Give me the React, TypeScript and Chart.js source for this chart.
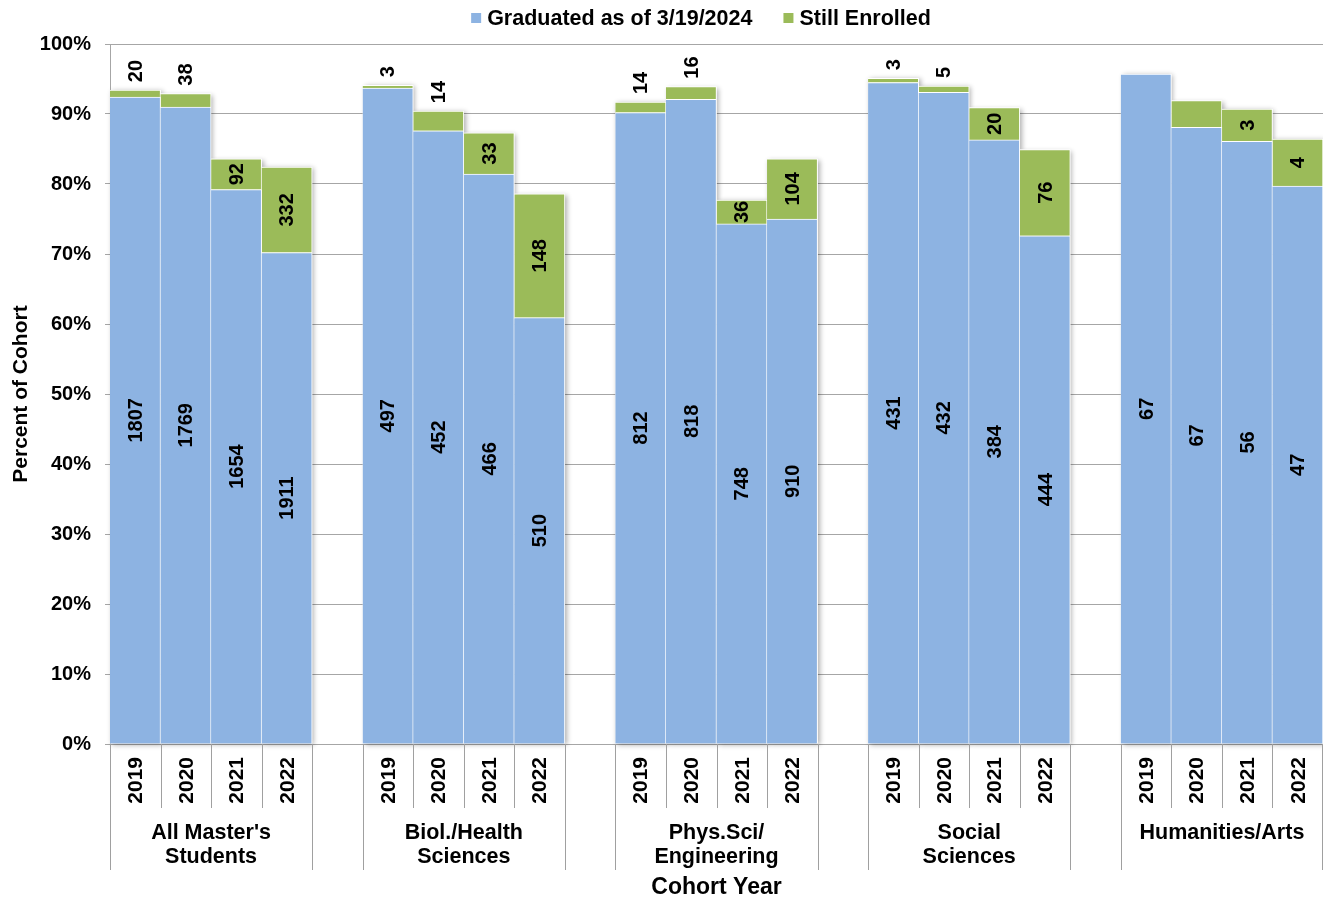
import React, { useEffect, useRef } from "react";
import { Chart, registerables } from "chart.js";

Chart.register(...registerables);

const FONT = "'Liberation Sans', Arial, Helvetica, sans-serif";
const BLUE = "#8DB3E2";
const GREEN = "#9BBB59";
const GRID = "#A6A6A6";
const SEP = "#A0A0A0";

const legendLabels = ["Graduated as of 3/19/2024", "Still Enrolled"];
const groupLabels: string[][] = [
  ["All Master's", "Students"],
  ["Biol./Health", "Sciences"],
  ["Phys.Sci/", "Engineering"],
  ["Social", "Sciences"],
  ["Humanities/Arts"],
];
const cohortYears = ["2019", "2020", "2021", "2022"];
const yTickValues = [0, 10, 20, 30, 40, 50, 60, 70, 80, 90, 100];

// Percent of cohort graduated
const allMastersGraduatedPct = [92.4, 91.0, 79.2, 70.2];
const biolHealthGraduatedPct = [93.7, 87.6, 81.4, 60.9];
const physSciGraduatedPct = [90.2, 92.1, 74.3, 75.0];
const socialSciGraduatedPct = [94.5, 93.1, 86.3, 72.6];
const humanitiesGraduatedPct = [95.7, 88.1, 86.1, 79.7];

// Percent of cohort still enrolled
const allMastersEnrolledPct = [1.0, 1.9, 4.4, 12.2];
const biolHealthEnrolledPct = [0.4, 2.8, 5.9, 17.7];
const physSciEnrolledPct = [1.5, 1.8, 3.4, 8.6];
const socialSciEnrolledPct = [0.6, 0.9, 4.6, 12.3];
const humanitiesEnrolledPct = [0, 3.8, 4.6, 6.7];

// Head counts shown as labels
const allMastersGraduatedN = [1807, 1769, 1654, 1911];
const biolHealthGraduatedN = [497, 452, 466, 510];
const physSciGraduatedN = [812, 818, 748, 910];
const socialSciGraduatedN = [431, 432, 384, 444];
const humanitiesGraduatedN = [67, 67, 56, 47];

const allMastersEnrolledN = [20, 38, 92, 332];
const biolHealthEnrolledN = [3, 14, 33, 148];
const physSciEnrolledN = [14, 16, 36, 104];
const socialSciEnrolledN = [3, 5, 20, 76];
const humanitiesEnrolledN: (number | null)[] = [null, null, 3, 4];

const gradGroups = [allMastersGraduatedPct, biolHealthGraduatedPct, physSciGraduatedPct, socialSciGraduatedPct, humanitiesGraduatedPct];
const enrGroups = [allMastersEnrolledPct, biolHealthEnrolledPct, physSciEnrolledPct, socialSciEnrolledPct, humanitiesEnrolledPct];
const gradNGroups = [allMastersGraduatedN, biolHealthGraduatedN, physSciGraduatedN, socialSciGraduatedN, humanitiesGraduatedN];
const enrNGroups: (number | null)[][] = [allMastersEnrolledN, biolHealthEnrolledN, physSciEnrolledN, socialSciEnrolledN, humanitiesEnrolledN];

function flatten<T>(groups: T[][], gap: T): T[] {
  const out: T[] = [];
  groups.forEach((g, i) => {
    g.forEach((v) => out.push(v));
    if (i < groups.length - 1) out.push(gap);
  });
  return out;
}

const xLabels = flatten(groupLabels.map(() => cohortYears), "");
const gradData = flatten<number | null>(gradGroups, null);
const enrData = flatten<number | null>(enrGroups, null);
const gradN = flatten<number | null>(gradNGroups, null);
const enrN = flatten<number | null>(enrNGroups, null);

const shadowPlugin = {
  id: "barShadow",
  beforeDatasetsDraw(chart: any) {
    const ctx: CanvasRenderingContext2D = chart.ctx;
    const m0 = chart.getDatasetMeta(0);
    const m1 = chart.getDatasetMeta(1);
    ctx.save();
    ctx.shadowColor = "rgba(0,0,0,0.32)";
    ctx.shadowBlur = 5;
    ctx.shadowOffsetX = 2;
    ctx.shadowOffsetY = 1;
    ctx.fillStyle = "#FFFFFF";
    m0.data.forEach((el: any, i: number) => {
      if (gradData[i] === null) return;
      const e1 = m1.data[i];
      const top = Math.min(el.y, e1 ? e1.y : el.y);
      const half = el.width / 2;
      ctx.fillRect(el.x - half, top, el.width, el.base - top);
    });
    ctx.restore();
  },
};

const overlayPlugin = {
  id: "overlay",
  afterDraw(chart: any) {
    const ctx: CanvasRenderingContext2D = chart.ctx;
    const area = chart.chartArea;
    const xs = chart.scales.x;
    const n = xLabels.length;
    const slot = (area.right - area.left) / n;
    const bottom = area.bottom;

    ctx.save();
    ctx.fillStyle = "#000";

    // ---- data labels ----
    ctx.font = `bold 20px ${FONT}`;
    const drawLabels = (dsIndex: number, counts: (number | null)[], allowAbove: boolean) => {
      const meta = chart.getDatasetMeta(dsIndex);
      meta.data.forEach((el: any, i: number) => {
        const c = counts[i];
        if (c === null || c === undefined) return;
        const txt = String(c);
        const tw = ctx.measureText(txt).width;
        const top = Math.min(el.y, el.base);
        const base = Math.max(el.y, el.base);
        let cy = (top + base) / 2;
        if (allowAbove && tw > base - top + 1) {
          cy = top - 8 - tw / 2;
        }
        ctx.save();
        ctx.translate(el.x, cy);
        ctx.rotate(-Math.PI / 2);
        ctx.textAlign = "center";
        ctx.textBaseline = "middle";
        ctx.fillText(txt, 0, 1);
        ctx.restore();
      });
    };
    drawLabels(0, gradN, false);
    drawLabels(1, enrN, true);

    // ---- x axis category cells ----
    ctx.strokeStyle = SEP;
    ctx.lineWidth = 1;
    const groupCount = groupLabels.length;
    const perGroup = cohortYears.length;
    for (let b = 0; b <= n; b++) {
      const x = Math.min(Math.round(area.left + b * slot) + 0.5, area.right - 0.5);
      const posInCycle = b % (perGroup + 1);
      const full = b === 0 || b === n || posInCycle === 0 || posInCycle === perGroup;
      const y2 = full ? bottom + 126 : bottom + 64;
      ctx.beginPath();
      ctx.moveTo(x, bottom);
      ctx.lineTo(x, y2);
      ctx.stroke();
    }

    // years
    ctx.font = `bold 21px ${FONT}`;
    xLabels.forEach((lab, i) => {
      if (!lab) return;
      const x = xs.getPixelForValue(i);
      ctx.save();
      ctx.translate(x, bottom + 13);
      ctx.rotate(-Math.PI / 2);
      ctx.textAlign = "right";
      ctx.textBaseline = "middle";
      ctx.fillText(lab, 0, 1);
      ctx.restore();
    });

    // group names
    ctx.font = `bold 21.5px ${FONT}`;
    ctx.textAlign = "center";
    ctx.textBaseline = "middle";
    for (let g = 0; g < groupCount; g++) {
      const startSlot = g * (perGroup + 1);
      const cx = area.left + (startSlot + perGroup / 2) * slot;
      groupLabels[g].forEach((line, li) => {
        ctx.fillText(line, cx, bottom + 89 + li * 24);
      });
    }

    // x axis title
    ctx.font = `bold 23px ${FONT}`;
    ctx.fillText("Cohort Year", (area.left + area.right) / 2, bottom + 144);

    // y axis title
    ctx.save();
    ctx.font = `bold 21px ${FONT}`;
    ctx.translate(21, (area.top + area.bottom) / 2);
    ctx.rotate(-Math.PI / 2);
    ctx.textAlign = "center";
    ctx.textBaseline = "middle";
    ctx.fillText("Percent of Cohort", 0, 0);
    ctx.restore();

    // legend
    ctx.font = `bold 21.5px ${FONT}`;
    const w1 = ctx.measureText(legendLabels[0]).width;
    const w2 = ctx.measureText(legendLabels[1]).width;
    const sq = 10;
    const gap = 6;
    const spacing = 31;
    const total = sq + gap + w1 + spacing + sq + gap + w2;
    let lx = 701 - total / 2;
    const ly = 18;
    ctx.textAlign = "left";
    ctx.textBaseline = "middle";
    ctx.fillStyle = BLUE;
    ctx.fillRect(lx, ly - 5, sq, sq);
    lx += sq + gap;
    ctx.fillStyle = "#000";
    ctx.fillText(legendLabels[0], lx, ly + 1);
    lx += w1 + spacing;
    ctx.fillStyle = GREEN;
    ctx.fillRect(lx, ly - 5, sq, sq);
    lx += sq + gap;
    ctx.fillStyle = "#000";
    ctx.fillText(legendLabels[1], lx, ly + 1);

    ctx.restore();
  },
};

export default function App() {
  const canvasRef = useRef<HTMLCanvasElement | null>(null);

  useEffect(() => {
    const canvas = canvasRef.current;
    if (!canvas) return;
    const barCommon = {
      borderColor: "#FFFFFF",
      borderWidth: { top: 1, right: 1, left: 0, bottom: 0 },
      borderSkipped: false,
      barPercentage: 1,
      categoryPercentage: 1,
    };
    const chart = new Chart(canvas, {
      type: "bar",
      data: {
        labels: xLabels,
        datasets: [
          { label: legendLabels[0], data: gradData, backgroundColor: BLUE, ...barCommon },
          { label: legendLabels[1], data: enrData, backgroundColor: GREEN, ...barCommon },
        ],
      } as any,
      options: {
        responsive: false,
        animation: false,
        layout: { padding: { top: 44, right: 0, bottom: 0, left: 0 } },
        plugins: {
          legend: { display: false },
          tooltip: { enabled: false },
          title: { display: false },
        },
        scales: {
          x: {
            stacked: true,
            offset: true,
            grid: { display: false },
            border: { display: true, color: GRID, width: 1 },
            ticks: { display: false },
            afterFit: (scale: any) => {
              scale.height = 157;
            },
          },
          y: {
            stacked: true,
            min: 0,
            max: 100,
            afterBuildTicks: (scale: any) => {
              scale.ticks = yTickValues.map((v) => ({ value: v }));
            },
            ticks: {
              callback: (v: any) => `${v}%`,
              color: "#000",
              font: { family: FONT, size: 20, weight: "bold" },
              padding: 14,
            },
            grid: { color: GRID, lineWidth: 1, drawTicks: true, tickLength: 5 },
            border: { display: true, color: GRID, width: 1 },
            afterFit: (scale: any) => {
              scale.width = 110;
            },
          },
        },
      } as any,
      plugins: [shadowPlugin, overlayPlugin],
    });
    return () => chart.destroy();
  }, []);

  return (
    <div style={{ position: "fixed", left: 0, top: 0, width: 1323, height: 901, background: "#fff" }}>
      <canvas ref={canvasRef} width={1323} height={901} style={{ display: "block" }} />
    </div>
  );
}
